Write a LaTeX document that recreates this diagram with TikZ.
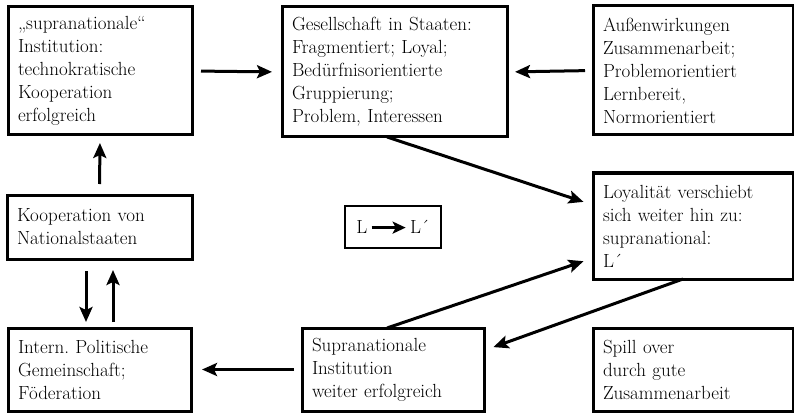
\documentclass[tikz,border=0pt]{standalone}
\usepackage{tikz}
\usetikzlibrary{positioning, arrows.meta, calc}

\begin{document}
\frenchspacing
\begin{tikzpicture}[x=1pt, y=-1pt, line width=3pt,
    >={Stealth[length=15pt,width=13pt,inset=3pt]},
    box/.style={draw, rectangle, align=left, outer sep=0pt,
                inner xsep=10pt, inner ysep=0pt,
                font=\fontsize{19}{23}\selectfont},
    flow/.style={->, line width=3pt}]

    % ---------- frame ----------
    \useasboundingbox (0,0) rectangle (794,414);

    % ---------- top row ----------
    \node[box, text width=164pt, minimum height=128pt] (supra) at (100,71)
      {„supranationale“\\Institution:\\technokratische\\Kooperation\\erfolgreich};
    \node[box, text width=205pt, minimum height=130pt] (gesell) at (394.5,72)
      {Gesellschaft in Staaten:\\Fragmentiert; Loyal;\\Bedürfnisorientierte\\Gruppierung;\\Problem, Interessen};
    \node[box, text width=180pt, minimum height=129pt] (aussen) at (693,70.5)
      {Außenwirkungen\\Zusammenarbeit;\\Problemorientiert\\Lernbereit,\\Normorientiert};

    % ---------- middle row ----------
    \node[box, text width=165pt, minimum height=64pt] (koop) at (99.5,227)
      {Kooperation von\\Nationalstaaten};
    \node[box, align=center, line width=2.5pt, inner xsep=4pt,
          minimum width=96pt, minimum height=42pt] (lshift) at (393,227)
      {L\,\tikz[baseline]\draw[line width=2.4pt,-{Stealth[length=13pt,width=12pt,inset=3pt]}]
         (0pt,6pt) -- (34pt,6pt);\,L´};
    \node[box, text width=180pt, minimum height=106pt] (loyal) at (693,226)
      {Loyalität verschiebt\\sich weiter hin zu:\\supranational:\\L´};

    % ---------- bottom row ----------
    \node[box, text width=163pt, minimum height=83pt] (intern) at (99.5,369.5)
      {Intern. Politische\\Gemeinschaft;\\Föderation};
    \node[box, text width=162pt, minimum height=83pt] (suprainst) at (393,369.5)
      {Supranationale\\Institution\\weiter erfolgreich};
    \node[box, text width=180pt, minimum height=83pt] (spill) at (693,369.5)
      {Spill over\\durch gute\\Zusammenarbeit};

    % ---------- horizontal arrows ----------
    \draw[flow, shorten <=9pt, shorten >=10pt] (supra.east) -- (gesell.west);
    \draw[flow, shorten <=8pt, shorten >=8pt] (aussen.west) -- (gesell.east);
    \draw[flow, shorten <=8pt, shorten >=11pt] (suprainst.west) -- (intern.east);

    % ---------- vertical arrows ----------
    \draw[flow, shorten <=11pt, shorten >=8pt] (koop.north) -- (supra.south);
    \draw[flow, shorten <=12pt, shorten >=6pt]
      ([xshift=-13.5pt]koop.south) -- ([xshift=-13.5pt]intern.north);
    \draw[flow, shorten <=6pt, shorten >=11pt]
      ([xshift=13.5pt]intern.north) -- ([xshift=13.5pt]koop.south);

    % ---------- diagonal arrows ----------
    \draw[flow, shorten >=10pt] ([xshift=-7.5pt]gesell.south) -- ([yshift=21pt]loyal.west);
    \draw[flow, shorten >=10pt] ([xshift=-6pt]suprainst.north) -- ([yshift=-32pt]loyal.west);
    \draw[flow, shorten >=10pt] ([xshift=-10pt]loyal.south) -- ([yshift=19pt]suprainst.east);

  \end{tikzpicture}
\end{document}
